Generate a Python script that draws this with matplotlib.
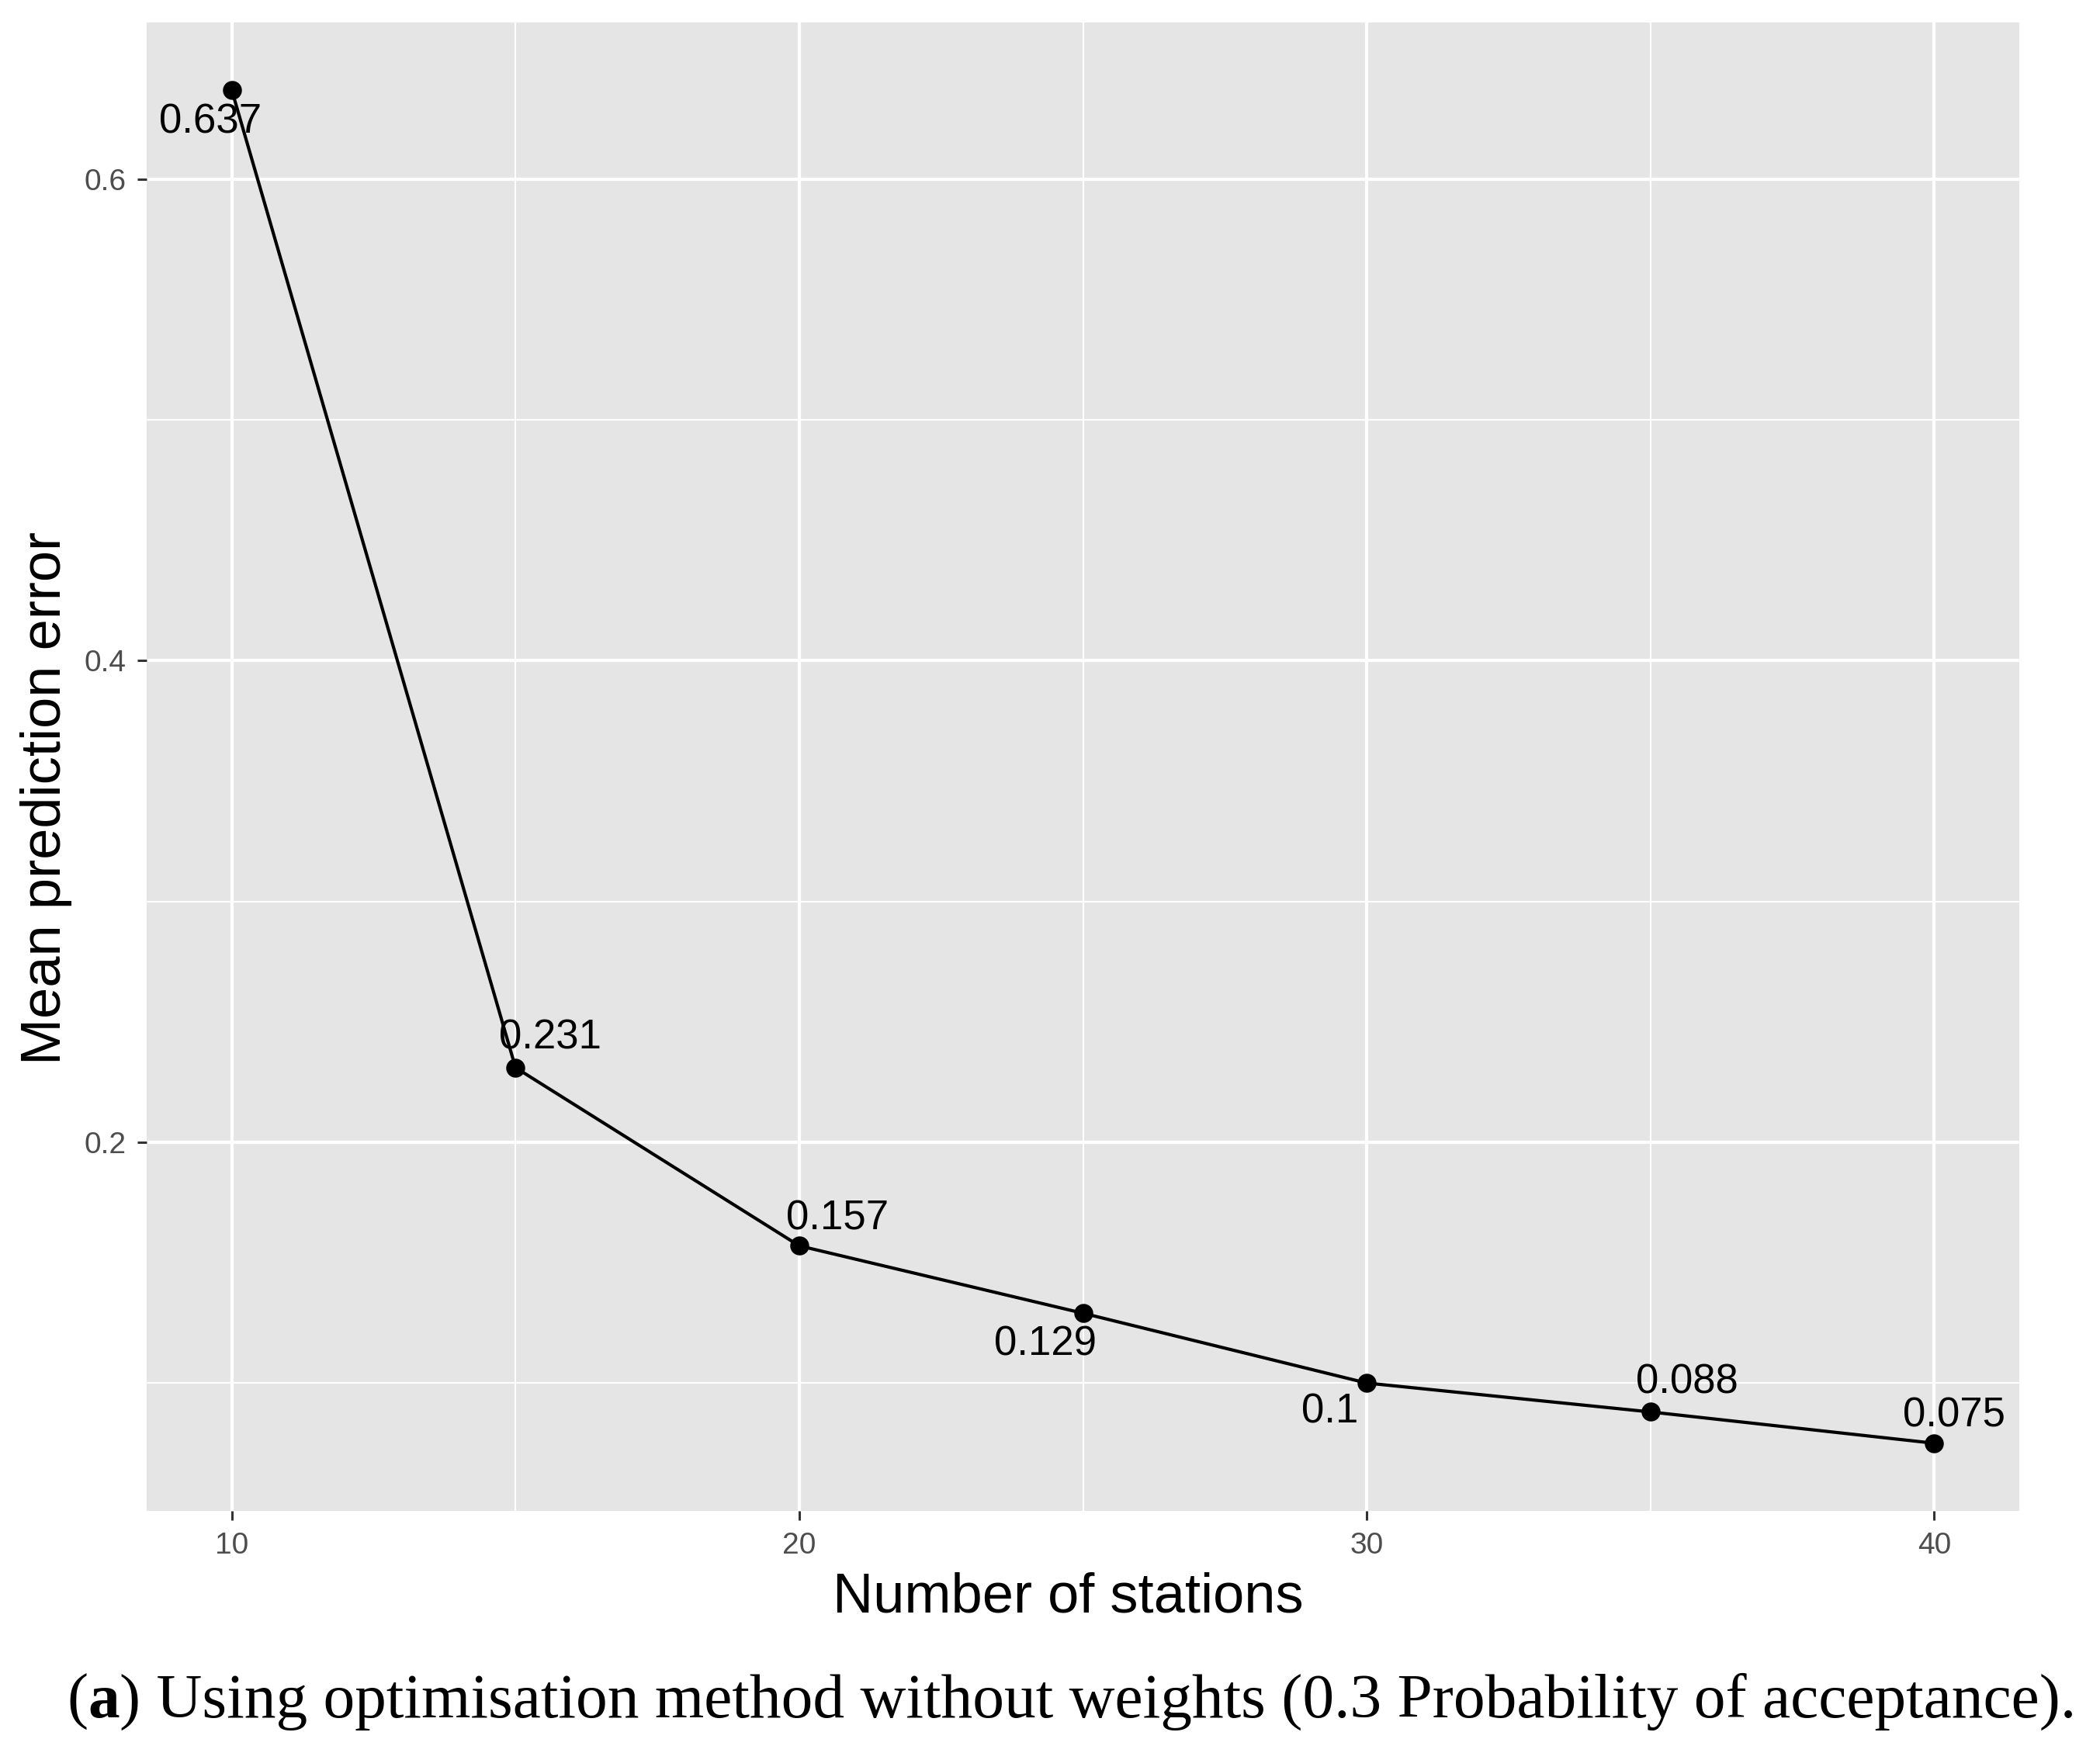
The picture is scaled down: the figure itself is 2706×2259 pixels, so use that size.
import numpy as np
import matplotlib as mpl
mpl.use('Agg')
import matplotlib.pyplot as plt
from matplotlib.ticker import MultipleLocator

stations = [10, 15, 20, 25, 30, 35, 40]
errors = [0.637, 0.231, 0.157, 0.129, 0.1, 0.088, 0.075]
labels = ['0.637', '0.231', '0.157', '0.129', '0.1', '0.088', '0.075']
# label offsets (points) as placed in the original
offsets = [(-10, -15), (16, 13.7), (17.6, 12.6), (-17.6, -14.4), (-17, -13.3), (17, 13.7), (9.4, 12.6)]
xticks = [10, 20, 30, 40]
yticks = [0.2, 0.4, 0.6]
caption = ') Using optimisation method without weights (0.3 Probability of acceptance).'

plt.rcParams['font.family'] = ['Liberation Sans', 'DejaVu Sans']

W, H, DPI = 2706, 2259, 200
fig = plt.figure(figsize=(W / DPI, H / DPI), dpi=DPI)
L, R, B, T = 189, 2602, 1947, 29
ax = fig.add_axes([L / W, (H - B) / H, (R - L) / W, (B - T) / H])

ax.set_facecolor('#E5E5E5')
for s in ax.spines.values():
    s.set_visible(False)

ax.set_xlim(8.5, 41.5)
ax.set_ylim(0.0469, 0.6651)
ax.set_xticks(xticks)
ax.set_yticks(yticks)
ax.xaxis.set_minor_locator(MultipleLocator(5))
ax.yaxis.set_minor_locator(MultipleLocator(0.1))
ax.set_yticklabels([str(v) for v in yticks])
ax.grid(which='major', color='white', lw=1.5)
ax.grid(which='minor', color='white', lw=0.75)
ax.set_axisbelow(True)
ax.tick_params(which='major', length=4.2, width=1.1, color='#333333',
               labelsize=14, labelcolor='#4D4D4D', pad=5.4)
ax.tick_params(which='minor', length=0)

ax.plot(stations, errors, color='black', lw=1.5, marker='o', ms=7.8, zorder=3)
for x, y, lab, (dx, dy) in zip(stations, errors, labels, offsets):
    ax.annotate(lab, (x, y), xytext=(dx, dy), textcoords='offset points',
                ha='center', va='center', fontsize=19, color='black', zorder=4)

ax.set_xlabel('Number of stations', fontsize=26, va='baseline')
ax.xaxis.set_label_coords((1376 - L) / (R - L), (B - 2078) / (B - T))
ax.set_ylabel('Mean prediction error', fontsize=26, va='center', ha='center')
ax.yaxis.set_label_coords((60 - L) / (R - L), (B - 1029) / (B - T))

# caption below the chart, fitted to the original width
cap_left, cap_right, cap_base = 86, 2678, 2213
fig.canvas.draw()
r = fig.canvas.get_renderer()

def draw_caption(fs):
    parts = []
    x0 = cap_left / W
    for txt, wt in [('(', 'normal'), ('a', 'bold'), (caption, 'normal')]:
        t = fig.text(x0, (H - cap_base) / H, txt, fontsize=fs, fontweight=wt,
                     family='Liberation Serif', va='baseline', ha='left')
        bb = t.get_window_extent(renderer=r)
        x0 = bb.x1 / W
        parts.append(t)
    return parts, x0 * W

parts, right = draw_caption(25)
for p in parts:
    p.remove()
fs = 25 * (cap_right - cap_left) / (right - cap_left)
draw_caption(fs)

fig.savefig('out.png', dpi=DPI)
plt.close()
